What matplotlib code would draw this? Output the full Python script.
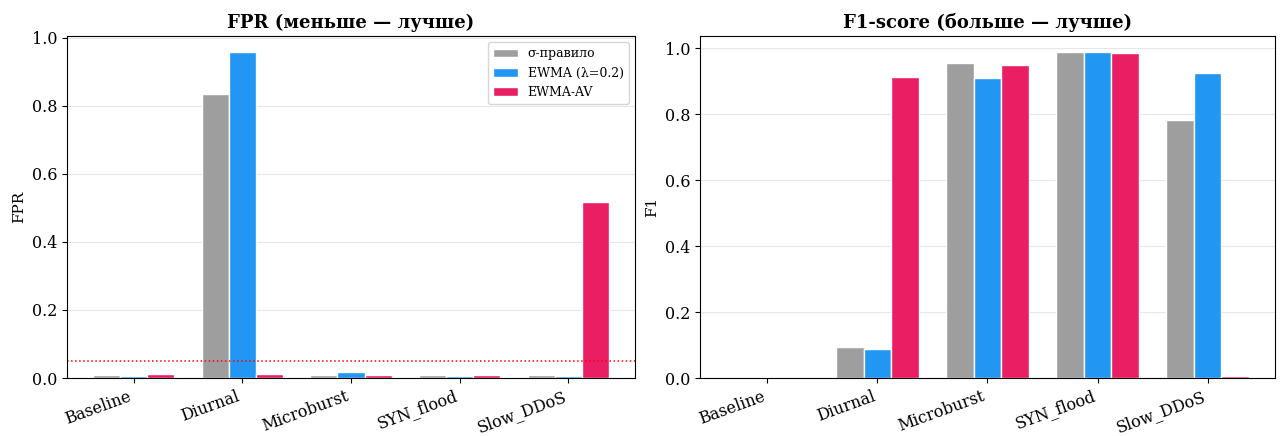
import matplotlib
matplotlib.use("Agg")
import matplotlib.pyplot as plt
import numpy as np

plt.rcParams['font.family'] = ['DejaVu Serif']

scenarios = ["Baseline", "Diurnal", "Microburst", "SYN_flood", "Slow_DDoS"]
methods = ["σ-правило", "EWMA (λ=0.2)", "EWMA-AV"]
colors = ["#9E9E9E", "#2196F3", "#E91E63"]

fpr_sigma = [0.008, 0.835, 0.008, 0.008, 0.008]
fpr_ewma = [0.006, 0.957, 0.018, 0.006, 0.006]
fpr_av = [0.011, 0.011, 0.008, 0.008, 0.516]

f1_sigma = [0.0, 0.095, 0.955, 0.988, 0.784]
f1_ewma = [0.0, 0.088, 0.909, 0.988, 0.924]
f1_av = [0.0, 0.912, 0.949, 0.985, 0.006]

fpr_target = 0.05

fig = plt.figure(figsize=(12.83, 4.36), dpi=100)
ax1 = fig.add_axes([67/1283, 1-378/436, (635-67)/1283, (378-36)/436])
ax2 = fig.add_axes([700/1283, 1-378/436, (1275-700)/1283, (378-36)/436])

x = np.arange(len(scenarios))
w = 0.25

def draw(ax, series, title, ylabel):
    for i, (vals, c, m) in enumerate(zip(series, colors, methods)):
        ax.bar(x + (i - 1) * w, vals, w, color=c, edgecolor="white", linewidth=1, label=m)
    ax.set_title(title, fontsize=13, fontweight="bold")
    ax.set_ylabel(ylabel, fontsize=11)
    ax.set_xticks(x)
    ax.set_xticklabels(scenarios, rotation=20, ha="right", fontsize=11.5)
    ax.tick_params(axis="y", labelsize=11.5)
    ax.grid(axis="y", alpha=0.3)
    ax.set_axisbelow(True)

draw(ax1, [fpr_sigma, fpr_ewma, fpr_av], "FPR (меньше — лучше)", "FPR")
ax1.axhline(fpr_target, color="red", linestyle=":", linewidth=1.1)
ax1.legend(fontsize=9, loc="upper right")
draw(ax2, [f1_sigma, f1_ewma, f1_av], "F1-score (больше — лучше)", "F1")

fig.savefig("out.png", dpi=100)
